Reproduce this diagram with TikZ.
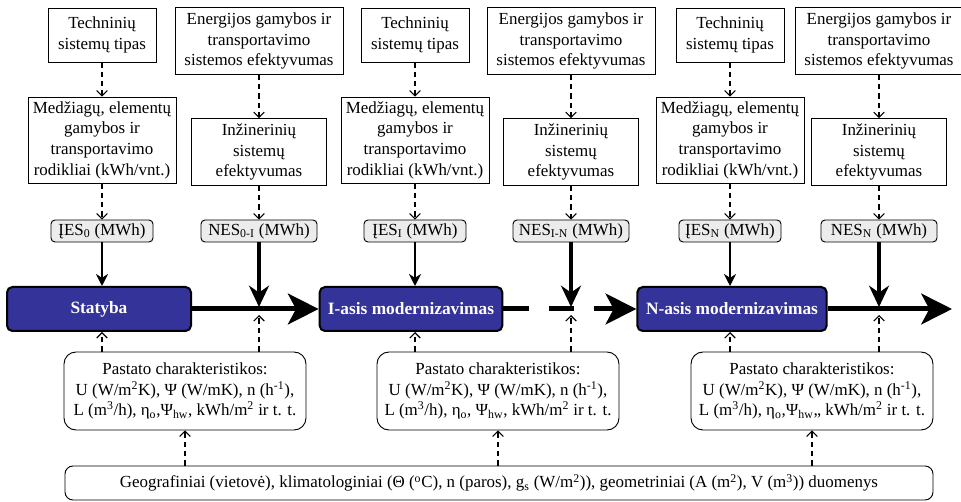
\documentclass[tikz,border=0pt]{standalone}
\usepackage{fontspec}
\setmainfont{Liberation Serif}
\usetikzlibrary{arrows.meta,positioning,calc}
\definecolor{procblue}{RGB}{51,51,153}

\begin{document}
\begin{tikzpicture}[x=0.75pt,y=-0.75pt,font=\fontsize{12.7}{15.5}\selectfont,
  txtbox/.style={draw,line width=0.7pt,align=center,inner sep=2pt},
  techbox/.style={txtbox,minimum width=81pt,minimum height=40.5pt},
  enerbox/.style={txtbox,minimum width=126pt,minimum height=50pt},
  medbox/.style={txtbox,minimum width=111pt,minimum height=64.5pt},
  inzbox/.style={txtbox,minimum width=101pt,minimum height=50pt},
  valbox/.style={draw,line width=0.7pt,fill=gray!15,rounded corners=3pt,inner sep=2pt,minimum height=16.5pt},
  procbox/.style={draw,line width=1.5pt,fill=procblue,rounded corners=4pt,text=white,font=\fontsize{13}{15.5}\selectfont\bfseries,minimum height=33pt},
  infobox/.style={draw,line width=0.7pt,rounded corners=9pt,align=center,minimum width=181.5pt,minimum height=58.5pt},
  dasharr/.style={line width=0.8pt,dash pattern=on 4pt off 3pt,-{Straight Barb[length=4pt,width=8pt]}},
  valarr/.style={line width=1.8pt,-{Stealth[length=9pt,width=9pt]}},
  bigarr/.style={line width=3pt,-{Stealth[length=16pt,width=15pt]}},
  mainline/.style={line width=3.75pt},
  mainarr/.style={mainline,-{Stealth[length=23pt,width=23pt,inset=6pt]}}]
  \useasboundingbox (0,0) rectangle (961,502);

  \foreach \i/\xa/\xb/\sa/\sb in {1/102/259/0/0-I,2/415/571/I/I-N,3/730/879/N/N}{
    \node[techbox] (tech\i) at (\xa,35) {Techninių\\sistemų tipas};
    \node[enerbox] (ener\i) at (\xb,41) {Energijos gamybos ir\\transportavimo\\sistemos efektyvumas};
    \node[medbox] (med\i) at (\xa,140) {Medžiagų, elementų\\gamybos ir\\transportavimo\\rodikliai (kWh/vnt.)};
    \node[inzbox] (inz\i) at (\xb,152) {Inžinerinių\\sistemų\\efektyvumas};
    \node[valbox,minimum width=76.5pt] (ies\i) at (\xa,231) {ĮES\textsubscript{\sa} (MWh)};
    \node[valbox,minimum width=87pt] (nes\i) at (\xb,231) {NES\textsubscript{\sb} (MWh)};
    \coordinate (j\i) at (\xb,307);
    \draw[dasharr] (tech\i) -- (med\i);
    \draw[dasharr] (ener\i) -- (inz\i);
    \draw[dasharr] (med\i) -- (ies\i);
    \draw[dasharr] (inz\i) -- (nes\i);
  }

  \node[procbox,minimum width=138pt] (proc1) at (99,309) {Statyba};
  \node[procbox,minimum width=137pt] (proc2) at (411,309) {I-asis modernizavimas};
  \node[procbox,minimum width=142pt] (proc3) at (732,309) {N-asis modernizavimas};
  \coordinate (mainend) at (952,309);

  \node[infobox] (past1) at (185,391) {Pastato charakteristikos:\\U (W/m\textsuperscript{2}K), Ψ (W/mK), n (h\textsuperscript{-1}),\\L (m\textsuperscript{3}/h), η\textsubscript{o},Ψ\textsubscript{hw}, kWh/m\textsuperscript{2} ir t. t.};
  \node[infobox] (past2) at (498,391) {Pastato charakteristikos:\\U (W/m\textsuperscript{2}K), Ψ (W/mK), n (h\textsuperscript{-1}),\\L (m\textsuperscript{3}/h), η\textsubscript{o}, Ψ\textsubscript{hw}, kWh/m\textsuperscript{2} ir t. t.};
  \node[infobox] (past3) at (812,391) {Pastato charakteristikos:\\U (W/m\textsuperscript{2}K), Ψ (W/mK), n (h\textsuperscript{-1}),\\L (m\textsuperscript{3}/h), η\textsubscript{o},Ψ\textsubscript{hw},, kWh/m\textsuperscript{2} ir t. t.};
  \node[draw,line width=0.7pt,rounded corners=6pt,minimum width=651pt,minimum height=25.5pt] (geo) at (499,483)
    {Geografiniai (vietovė), klimatologiniai (Θ (\textsuperscript{o}C), n (paros), g\textsubscript{s} (W/m\textsuperscript{2})), geometriniai (A (m\textsuperscript{2}), V (m\textsuperscript{3})) duomenys};

  \draw[mainarr] (proc1) -- (proc2);
  \draw[mainline] (proc2.east) -- ($(j2)+(-42,2)$);
  \draw[mainline] ($(j2)+(-22,2)$) -- ($(j2)+(3,2)$);
  \draw[mainarr] ($(j2)+(23,2)$) -- (proc3);
  \draw[mainarr] (proc3) -- (mainend);

  \foreach \i in {1,2,3}{
    \draw[valarr] (ies\i) -- (ies\i |- proc\i.north);
    \draw[bigarr] (nes\i) -- (j\i);
    \draw[dasharr] (ies\i |- past\i.north) -- (ies\i |- proc\i.south);
    \draw[dasharr] (j\i |- past\i.north) -- ($(j\i)+(0,8)$);
    \draw[dasharr] (past\i |- geo.north) -- (past\i);
  }
\end{tikzpicture}
\end{document}
